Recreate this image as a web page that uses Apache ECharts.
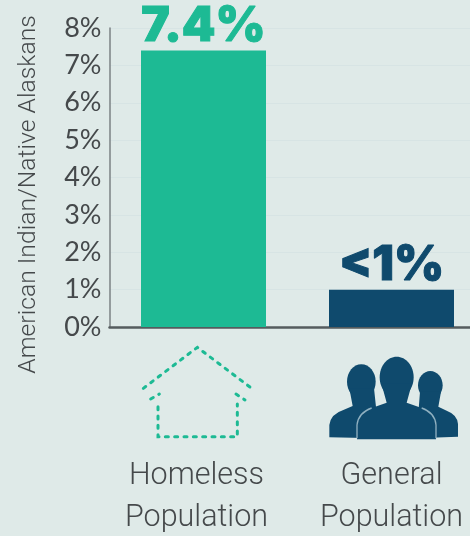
<!DOCTYPE html>
<html>
<head>
<meta charset="utf-8">
<style>html,body{margin:0;padding:0;background:#dfeae8}#chart{width:470px;height:536px}</style>
<script src="https://cdn.jsdelivr.net/npm/echarts@6/dist/echarts.min.js"></script>
</head>
<body>
<div id="chart"></div>
<script>
const categories = ['Homeless\nPopulation', 'General\nPopulation'];
const shareValues = [7.4, 1];
const shareLabels = ['7.4%', '<1%'];
const barColors = ['#1dba94', '#0f4a6d'];
const yTicks = [0, 8, 1];
const yTitle = 'American Indian/Native Alaskans';

// Outlines for the silhouette icon
const bodyShapes = {
  bodyLeft: 'M658 322 L658 285 Q662 252 700 240 L728 228 L718 175 L792 175 L800 250 L800 325 Z',
  bodyRight: 'M1044 320 L1044 282 Q1042 254 1010 242 L985 230 L993 185 L930 185 L925 250 L920 325 Z',
  bodyCentre: 'M741 328 L741 285 Q745 248 785 234 L830 218 L814 160 L906 160 L890 218 L935 234 Q975 248 978 285 L978 328 Z',
  shoulderLine: 'M741 325 L741 285 Q745 248 785 234 M935 234 Q975 248 978 285 L978 325'
};
Object.keys(bodyShapes).forEach(name => {
  echarts.graphic.registerShape(name, echarts.graphic.extendPath(bodyShapes[name], {}));
});

const chart = echarts.init(document.getElementById('chart'), null, { renderer: 'canvas' });

// Dashed outline of a house, drawn in a 3x local space
const dashed = { stroke: barColors[0], lineWidth: 9, lineDash: [9, 19], lineCap: 'round', fill: null };
const houseIcon = {
  type: 'group', x: 110, y: 330, scaleX: 1 / 3, scaleY: 1 / 3, silent: true,
  children: [
    { type: 'polyline', shape: { points: [[100, 175], [262, 52], [425, 175]] }, style: dashed },
    { type: 'polyline', shape: { points: [[122, 207], [148, 192]] }, style: dashed },
    { type: 'polyline', shape: { points: [[378, 192], [405, 210]] }, style: dashed },
    { type: 'polyline', shape: { points: [[144, 230], [144, 320], [382, 320], [382, 222]] }, style: dashed }
  ]
};

// Three-person silhouette, same local space
const ink = { fill: barColors[1] };
const peopleIcon = {
  type: 'group', x: 110, y: 330, scaleX: 1 / 3, scaleY: 1 / 3, silent: true,
  children: [
    { type: 'ellipse', shape: { cx: 754, cy: 155, rx: 43, ry: 52 }, style: ink },
    { type: 'ellipse', shape: { cx: 961, cy: 166, rx: 37, ry: 43 }, style: ink },
    { type: 'bodyLeft', style: ink },
    { type: 'bodyRight', style: ink },
    { type: 'ellipse', shape: { cx: 860, cy: 142, rx: 51, ry: 62 }, style: ink },
    { type: 'bodyCentre', style: ink },
    { type: 'shoulderLine', style: { fill: null, stroke: '#8fb0c0', lineWidth: 4 } }
  ]
};

// Category labels: the first one sits slightly left of its bar
const categoryText = { fontFamily: 'Roboto', fontWeight: 300, fontSize: 30.5, lineHeight: 42, color: '#45494b' };

chart.setOption({
  backgroundColor: '#dfeae8',
  animation: false,
  grid: { left: 109.5, top: 28, width: 376, height: 299, outerBoundsMode: 'none' },
  xAxis: {
    type: 'category',
    data: categories,
    axisTick: { show: false },
    axisLine: { lineStyle: { color: '#555c5e', width: 2.5 } },
    axisLabel: {
      margin: 128, interval: 0, ...categoryText,
      formatter: (value, i) => value.split('\n').map(line => `{c${i}|${line}}`).join('\n'),
      rich: {
        c0: { ...categoryText, padding: [0, 14, 0, 0] },
        c1: { ...categoryText }
      }
    }
  },
  yAxis: {
    type: 'value',
    min: yTicks[0], max: yTicks[1], interval: yTicks[2],
    name: yTitle,
    nameLocation: 'middle',
    nameGap: 68,
    nameTextStyle: {
      fontFamily: 'Roboto', fontWeight: 300, fontSize: 24.7, color: '#45494b',
      padding: [0, 34, 0, 0]
    },
    axisLine: { show: true, lineStyle: { color: '#7b8284', width: 1.5 } },
    axisTick: { show: false },
    axisLabel: {
      formatter: '{value}%', margin: 8, fontFamily: 'Lato', fontSize: 27, color: '#45494b',
      padding: [0, 0, 4, 0]
    },
    splitLine: { lineStyle: { color: '#d7e4e4', width: 1 } }
  },
  series: [{
    type: 'bar',
    barWidth: 125,
    data: shareValues.map((v, i) => ({
      value: v,
      itemStyle: { color: barColors[i] },
      label: { color: barColors[i], textBorderColor: barColors[i] }
    })),
    label: {
      show: true, position: 'top', distance: 0,
      fontFamily: 'Inter', fontWeight: 900, fontSize: 48, textBorderWidth: 1,
      formatter: p => shareLabels[p.dataIndex]
    }
  }],
  graphic: [houseIcon, peopleIcon]
});
</script>
</body>
</html>
